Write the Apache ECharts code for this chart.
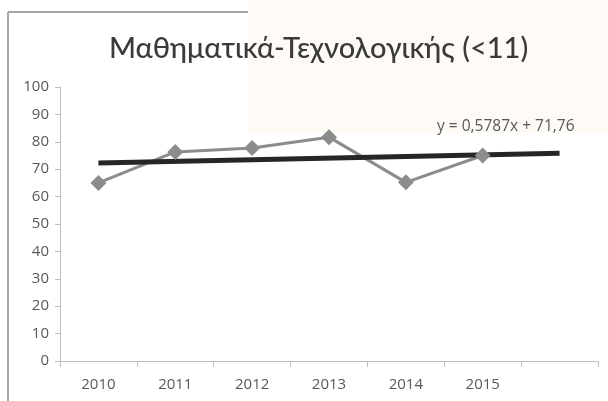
<!DOCTYPE html>
<html>
<head>
<meta charset="utf-8">
<script src="https://cdn.jsdelivr.net/npm/echarts@6/dist/echarts.min.js"></script>
<style>
  html, body { margin: 0; padding: 0; background: #fff; }
  #chart { width: 608px; height: 401px; }
</style>
</head>
<body>
<div id="chart"></div>
<script>
// data
const years = ['2010', '2011', '2012', '2013', '2014', '2015', '']
const scores = [65, 76.3, 77.7, 81.7, 65.2, 75, null]
// trendline end points (Excel linear trend, drawn to one period past 2015)
const trend = [72.3, null, null, null, null, null, 75.8]
const yTicks = { min: 0, max: 100, step: 10 }
const trendText = 'y = 0,5787x + 71,76'

var chart = echarts.init(document.getElementById('chart'))
chart.setOption({
  backgroundColor: '#fff',
  animation: false,
  title: {
    text: 'Μαθηματικά-Τεχνολογικής (<11)',
    left: 104,
    top: 29,
    textStyle: { fontFamily: 'Lato', fontSize: 29, fontWeight: 500, color: '#3a3a3a' }
  },
  graphic: [
    { type: 'rect', z: -10, silent: true, shape: { x: 248, y: 0, width: 360, height: 133 }, style: { fill: '#fefaf5' } },
    { type: 'line', shape: { x1: 8, y1: 12, x2: 8, y2: 401 }, style: { stroke: '#a6a6a6', lineWidth: 2 } },
    { type: 'line', shape: { x1: 8, y1: 12, x2: 248, y2: 12 }, style: { stroke: '#a6a6a6', lineWidth: 2 } },
    { type: 'text', left: 437, top: 119, style: { text: trendText, font: '15.5px "Open Sans"', fill: '#595959' } }
  ],
  grid: { left: 60, right: 10, top: 87, bottom: 40 },
  xAxis: {
    type: 'category',
    data: years,
    boundaryGap: true,
    axisLine: { lineStyle: { color: '#bfbfbf', width: 1 } },
    axisTick: { show: true, length: 6, alignWithLabel: false, lineStyle: { color: '#bfbfbf' } },
    axisLabel: { color: '#595959', fontSize: 15, fontFamily: 'Open Sans', margin: 16 },
    splitLine: { show: false }
  },
  yAxis: {
    type: 'value',
    min: yTicks.min,
    max: yTicks.max,
    interval: yTicks.step,
    axisLine: { show: true, lineStyle: { color: '#bfbfbf', width: 1 } },
    axisTick: { show: true, length: 5, lineStyle: { color: '#bfbfbf' } },
    axisLabel: { color: '#595959', fontSize: 15, fontFamily: 'Open Sans', margin: 11 },
    splitLine: { show: false }
  },
  series: [
    {
      name: 'scores',
      type: 'line',
      data: scores,
      symbol: 'diamond',
      symbolSize: 16,
      itemStyle: { color: '#8c8c8c' },
      lineStyle: { color: '#8c8c8c', width: 3 }
    },
    {
      name: 'trend',
      type: 'line',
      data: trend,
      connectNulls: true,
      symbol: 'none',
      z: 3,
      lineStyle: { color: '#262626', width: 5 }
    }
  ]
})
</script>
</body>
</html>
